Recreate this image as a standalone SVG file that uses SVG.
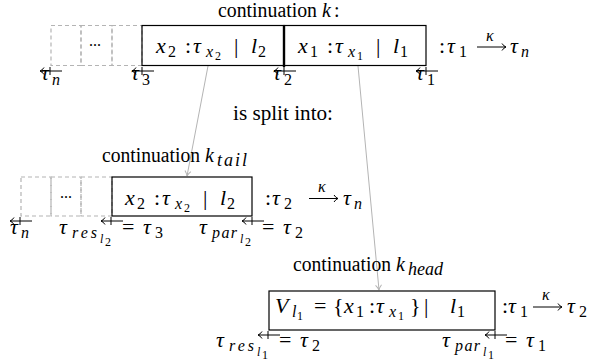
<svg xmlns="http://www.w3.org/2000/svg" xmlns:xlink="http://www.w3.org/1999/xlink" width="598" height="364" viewBox="0 0 598 364">
<style>
text{font-family:"Liberation Serif","Times New Roman",serif;font-size:20px;fill:#000}
.m{font-size:22px}
.i{font-style:italic}
.s{font-size:16px}
.sl{font-size:18px}
.ss{font-size:12px}
.box{fill:none;stroke:#000;stroke-width:1.2}
.dash{fill:none;stroke:#b4b4b4;stroke-width:1.2;stroke-dasharray:4 3}
.con{fill:none;stroke:#b4b4b4;stroke-width:1}
.mk{fill:none;stroke:#000;stroke-width:1}
.ar{fill:none;stroke:#000;stroke-width:1}
</style>
<defs>
<path id="mk" class="mk" d="M-11,0 H11 M-1,-4 V4 M-7,-3.5 Q-9,-0.5 -11,0 Q-9,0.5 -7,3.5"/>
<path id="ra" class="ar" d="M0,0 H29 M25,-3.5 Q27,-0.5 29,0 Q27,0.5 25,3.5"/>
<marker id="gh" markerWidth="8" markerHeight="8" refX="6" refY="4" orient="auto" markerUnits="userSpaceOnUse">
<path d="M1,1 Q4,3.5 6,4 Q4,4.5 1,7" fill="none" stroke="#b4b4b4" stroke-width="1"/>
</marker>
</defs>

<g id="connectors">
<line class="con" x1="208" y1="66" x2="187" y2="176" marker-end="url(#gh)"/>
<line class="con" x1="358" y1="66" x2="379" y2="290" marker-end="url(#gh)"/>
</g>

<g id="title-k">
<text y="17"><tspan x="218" textLength="99" lengthAdjust="spacingAndGlyphs">continuation</tspan><tspan class="i" x="322">k</tspan><tspan x="334">:</tspan></text>
</g>

<g id="k-dashed">
<rect class="dash" x="51" y="25.5" width="30" height="40"/>
<rect class="dash" x="81" y="25.5" width="31" height="40"/>
<rect class="dash" x="112" y="25.5" width="30" height="40"/>
<text class="s" x="89" y="46">...</text>
</g>

<g id="k-box-l2">
<rect class="box" x="142" y="25.5" width="142" height="40"/>
<text class="m"><tspan class="i" x="156" y="53">x</tspan><tspan class="s" x="168" y="57">2</tspan><tspan x="185" y="53">:</tspan><tspan class="i" x="193" y="53">τ</tspan><tspan class="s i" x="206" y="57">x</tspan><tspan class="ss" x="215" y="60">2</tspan><tspan x="234" y="53">|</tspan><tspan class="i" x="251" y="53">l</tspan><tspan class="s" x="258" y="57">2</tspan></text>
</g>

<g id="k-box-l1">
<rect class="box" x="284" y="25.5" width="142" height="40"/>
<text class="m"><tspan class="i" x="298" y="53">x</tspan><tspan class="s" x="310" y="57">1</tspan><tspan x="327" y="53">:</tspan><tspan class="i" x="335" y="53">τ</tspan><tspan class="s i" x="348" y="57">x</tspan><tspan class="ss" x="357" y="60">1</tspan><tspan x="376" y="53">|</tspan><tspan class="i" x="393" y="53">l</tspan><tspan class="s" x="400" y="57">1</tspan></text>
</g>
<line x1="284" y1="25" x2="284" y2="67" stroke="#000" stroke-width="2.4"/>

<g id="k-type">
<text class="m"><tspan x="439" y="53">:</tspan><tspan class="i" x="447" y="53">τ</tspan><tspan class="s" x="459" y="57">1</tspan><tspan class="s i" x="486" y="41">κ</tspan><tspan class="i" x="510" y="53">τ</tspan><tspan class="s i" x="521" y="57">n</tspan></text>
<use xlink:href="#ra" x="477" y="47"/>
</g>

<g id="k-markers">
<use xlink:href="#mk" x="51" y="71"/>
<use xlink:href="#mk" x="143" y="71"/>
<use xlink:href="#mk" x="285" y="71"/>
<use xlink:href="#mk" x="427" y="71"/>
<text class="m"><tspan class="i" x="41" y="80">τ</tspan><tspan class="s i" x="52" y="85">n</tspan></text>
<text class="m"><tspan class="i" x="131" y="80">τ</tspan><tspan class="s" x="142" y="85">3</tspan></text>
<text class="m"><tspan class="i" x="273" y="80">τ</tspan><tspan class="s" x="284" y="85">2</tspan></text>
<text class="m"><tspan class="i" x="416" y="80">τ</tspan><tspan class="s" x="427" y="85">1</tspan></text>
</g>

<g id="split-label">
<text x="233" y="120" textLength="100" lengthAdjust="spacingAndGlyphs">is split into:</text>
</g>

<g id="title-tail">
<text y="162"><tspan x="102" textLength="98" lengthAdjust="spacingAndGlyphs">continuation</tspan><tspan class="i" x="205">k</tspan><tspan class="sl i" x="217" y="166" textLength="30" lengthAdjust="spacing">tail</tspan></text>
</g>

<g id="tail-dashed">
<rect class="dash" x="21" y="177" width="30" height="39"/>
<rect class="dash" x="51" y="177" width="30" height="39"/>
<rect class="dash" x="81" y="177" width="31" height="39"/>
<text class="s" x="60" y="198">...</text>
</g>

<g id="tail-box">
<rect class="box" x="112" y="177" width="140" height="39"/>
<text class="m"><tspan class="i" x="125" y="204.5">x</tspan><tspan class="s" x="137" y="208.5">2</tspan><tspan x="154" y="204.5">:</tspan><tspan class="i" x="162" y="204.5">τ</tspan><tspan class="s i" x="175" y="208.5">x</tspan><tspan class="ss" x="184" y="211.5">2</tspan><tspan x="203" y="204.5">|</tspan><tspan class="i" x="220" y="204.5">l</tspan><tspan class="s" x="227" y="208.5">2</tspan></text>
</g>

<g id="tail-type">
<text class="m"><tspan x="265" y="204.5">:</tspan><tspan class="i" x="272" y="204.5">τ</tspan><tspan class="s" x="284" y="208.5">2</tspan><tspan class="s i" x="318" y="192">κ</tspan><tspan class="i" x="343" y="204.5">τ</tspan><tspan class="s i" x="354" y="208.5">n</tspan></text>
<use xlink:href="#ra" x="309" y="198.5"/>
</g>

<g id="tail-markers">
<use xlink:href="#mk" x="21" y="221"/>
<use xlink:href="#mk" x="112" y="221"/>
<use xlink:href="#mk" x="253" y="221"/>
<text class="m"><tspan class="i" x="10" y="234">τ</tspan><tspan class="s i" x="21" y="238">n</tspan></text>
<text class="m"><tspan class="i" x="59" y="234">τ</tspan><tspan class="s i" x="72" y="238" textLength="25" lengthAdjust="spacing">res</tspan><tspan class="ss i" x="100" y="243">l</tspan><tspan class="ss" x="105" y="246">2</tspan><tspan x="122" y="234">=</tspan><tspan class="i" x="143" y="234">τ</tspan><tspan class="s" x="155" y="238">3</tspan></text>
<text class="m"><tspan class="i" x="199" y="234">τ</tspan><tspan class="s i" x="212" y="238" textLength="25" lengthAdjust="spacing">par</tspan><tspan class="ss i" x="240" y="243">l</tspan><tspan class="ss" x="245" y="246">2</tspan><tspan x="262" y="234">=</tspan><tspan class="i" x="283" y="234">τ</tspan><tspan class="s" x="295" y="238">2</tspan></text>
</g>

<g id="title-head">
<text y="271"><tspan x="293" textLength="98" lengthAdjust="spacingAndGlyphs">continuation</tspan><tspan class="i" x="396">k</tspan><tspan class="sl i" x="408" y="275">head</tspan></text>
</g>

<g id="head-box">
<rect class="box" x="269" y="291" width="226" height="39"/>
<text class="m"><tspan class="i" x="275" y="313">V</tspan><tspan class="s i" x="292" y="317">l</tspan><tspan class="ss" x="297" y="320">1</tspan><tspan x="314" y="313">=</tspan><tspan x="333" y="313">{</tspan><tspan class="i" x="344" y="313">x</tspan><tspan class="s" x="356" y="317">1</tspan><tspan x="369" y="313">:</tspan><tspan class="i" x="376" y="313">τ</tspan><tspan class="s i" x="389" y="317">x</tspan><tspan class="ss" x="398" y="320">1</tspan><tspan x="410" y="313">}</tspan><tspan x="424" y="313">|</tspan><tspan class="i" x="450" y="313">l</tspan><tspan class="s" x="457" y="317">1</tspan></text>
</g>

<g id="head-type">
<text class="m"><tspan x="502" y="313">:</tspan><tspan class="i" x="508" y="313">τ</tspan><tspan class="s" x="520" y="317">1</tspan><tspan class="s i" x="542" y="300">κ</tspan><tspan class="i" x="567" y="313">τ</tspan><tspan class="s" x="579" y="317">2</tspan></text>
<use xlink:href="#ra" x="533" y="307"/>
</g>

<g id="head-markers">
<use xlink:href="#mk" x="269" y="335"/>
<use xlink:href="#mk" x="496" y="335"/>
<text class="m"><tspan class="i" x="216" y="347">τ</tspan><tspan class="s i" x="229" y="351" textLength="25" lengthAdjust="spacing">res</tspan><tspan class="ss i" x="257" y="356">l</tspan><tspan class="ss" x="262" y="359">1</tspan><tspan x="279" y="347">=</tspan><tspan class="i" x="300" y="347">τ</tspan><tspan class="s" x="312" y="351">2</tspan></text>
<text class="m"><tspan class="i" x="442" y="347">τ</tspan><tspan class="s i" x="455" y="351" textLength="25" lengthAdjust="spacing">par</tspan><tspan class="ss i" x="483" y="356">l</tspan><tspan class="ss" x="488" y="359">1</tspan><tspan x="505" y="347">=</tspan><tspan class="i" x="526" y="347">τ</tspan><tspan class="s" x="538" y="351">1</tspan></text>
</g>
</svg>
